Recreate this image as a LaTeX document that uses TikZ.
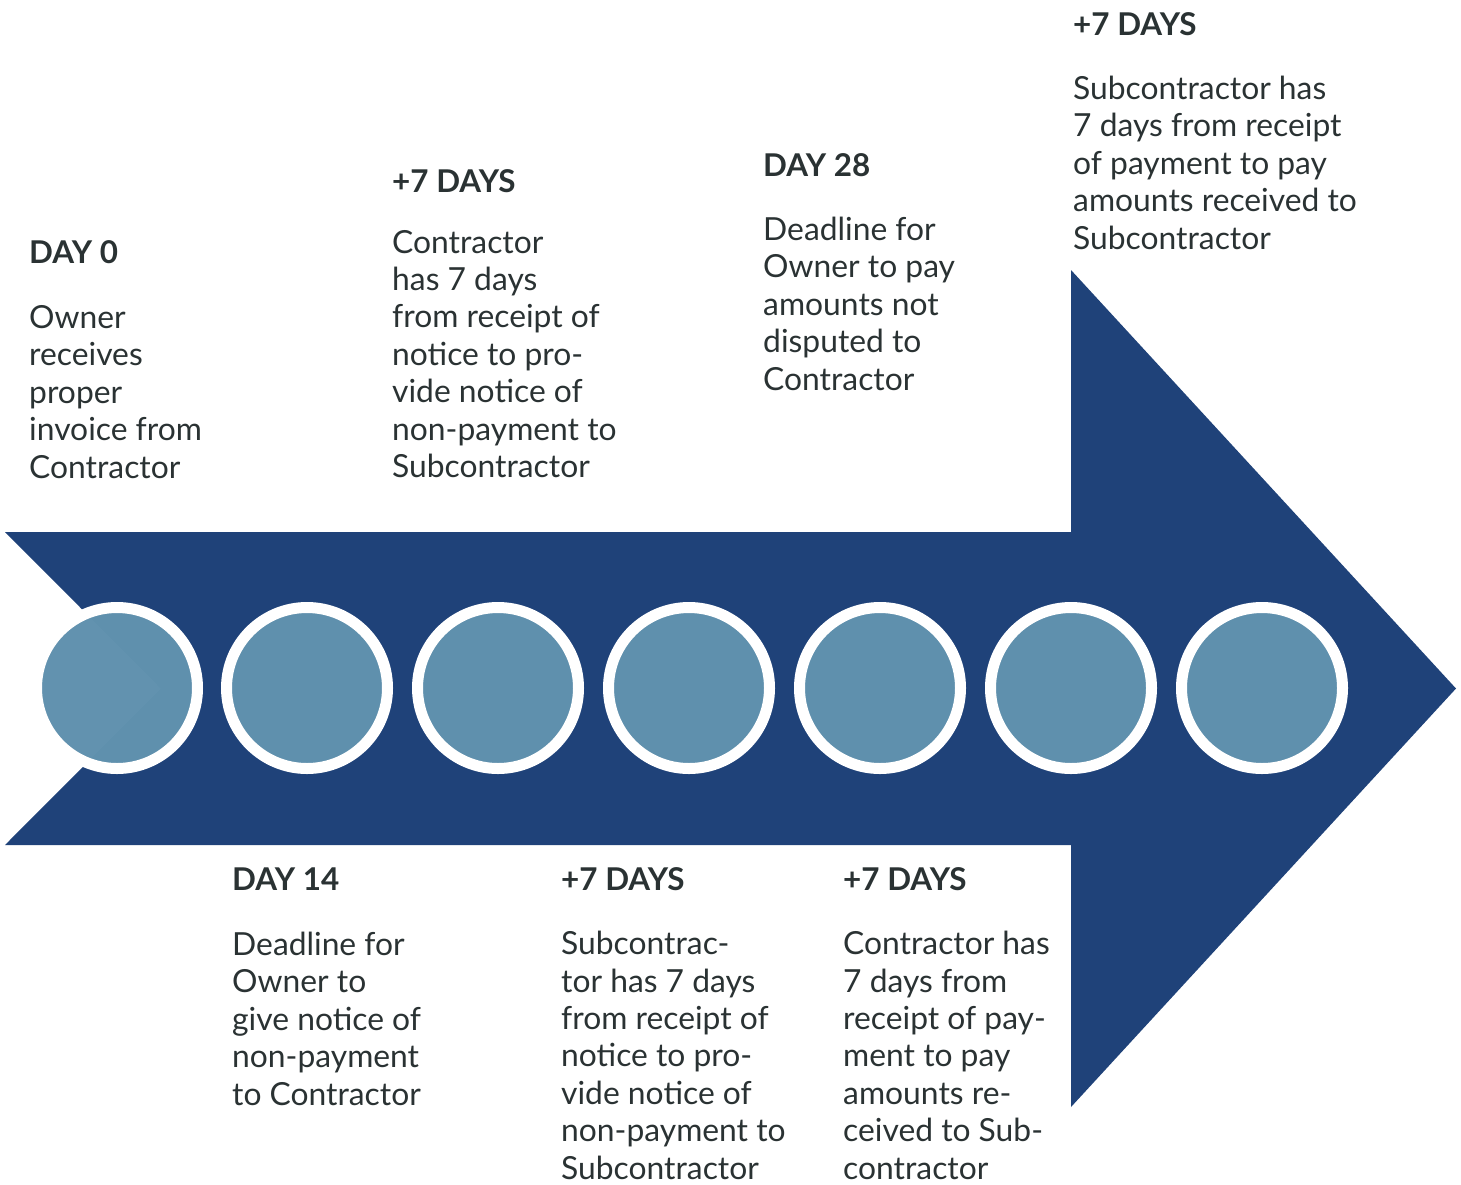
\documentclass[tikz,border=0pt]{standalone}
\usepackage{fontspec}
\setmainfont{Lato}
\definecolor{arrowblue}{HTML}{1F4279}
\definecolor{dotblue}{HTML}{6091AE}
\definecolor{txt}{HTML}{2A3233}
\begin{document}
\begin{tikzpicture}[x=1pt,y=-1pt,
  head/.style={anchor=base west,inner sep=0pt,text=txt,font=\fontsize{31.4}{37.4}\selectfont\bfseries},
  body/.style={anchor=base west,inner sep=0pt,text=txt,align=left,font=\fontsize{31.8}{37.4}\selectfont},
  dot/.style={circle,minimum size=161pt,inner sep=0pt,fill=dotblue,fill opacity=0.99,draw=white,draw opacity=1,line width=11pt}]
\useasboundingbox (0,0) rectangle (1461,1184);
% arrow
\fill[arrowblue] (5,532) -- (1071,532) -- (1071,270) -- (1456,688.5) -- (1071,1107) -- (1071,845) -- (5,845) -- (161,688.5) -- cycle;
% circles
\foreach \i/\x in {1/117,2/307,3/498,4/689,5/880,6/1071,7/1262}
  \node[dot] (c\i) at (\x,688) {};
% top texts (body nodes anchored at the baseline of their last line)
\node[head] (h1) at (29,263) {DAY 0};
\node[body] (b1) at (29,478) {Owner\\receives\\proper\\invoice from\\Contractor};
\node[head] (h2) at (392,192) {+7 DAYS};
\node[body] (b2) at (392,477.5) {Contractor\\has 7 days\\from receipt of\\notice to pro-\\vide notice of\\non-payment to\\Subcontractor};
\node[head] (h3) at (763,176) {DAY 28};
\node[body] (b3) at (763,390) {Deadline for\\Owner to pay\\amounts not\\disputed to\\Contractor};
\node[head] (h4) at (1073,35) {+7 DAYS};
\node[body] (b4) at (1073,249) {Subcontractor has\\7 days from receipt\\of payment to pay\\amounts received to\\Subcontractor};
% bottom texts
\node[head] (h5) at (232,890) {DAY 14};
\node[body] (b5) at (232,1105) {Deadline for\\Owner to\\give notice of\\non-payment\\to Contractor};
\node[head] (h6) at (561,890) {+7 DAYS};
\node[body] (b6) at (561,1179) {Subcontrac-\\tor has 7 days\\from receipt of\\notice to pro-\\vide notice of\\non-payment to\\Subcontractor};
\node[head] (h7) at (843,890) {+7 DAYS};
\node[body] (b7) at (843,1179) {Contractor has\\7 days from\\receipt of pay-\\ment to pay\\amounts re-\\ceived to Sub-\\contractor};
\end{tikzpicture}
\end{document}
